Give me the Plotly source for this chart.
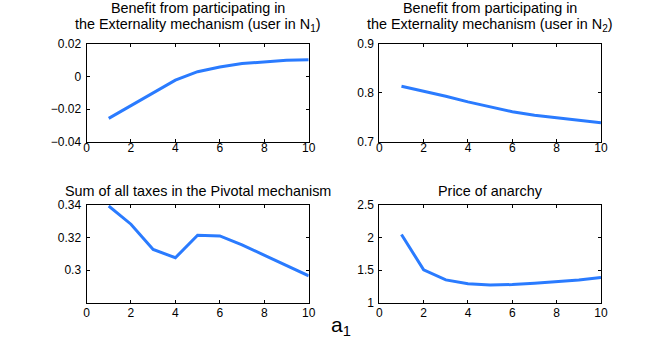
import plotly.graph_objects as go

W, H = 664, 341

a1 = [1, 2, 3, 4, 5, 6, 7, 8, 9, 10]
benefit_n1 = [-0.0257, -0.0180, -0.0100, -0.0022, 0.0030, 0.0059, 0.0080, 0.0092, 0.0100, 0.0104]
benefit_n2 = [0.8136, 0.8040, 0.7930, 0.7816, 0.7710, 0.7612, 0.7540, 0.7490, 0.7430, 0.7388]
pivotal_taxes = [0.3394, 0.3282, 0.3127, 0.3076, 0.3214, 0.3210, 0.3155, 0.3092, 0.3027, 0.2965]
price_anarchy = [2.046, 1.505, 1.350, 1.290, 1.273, 1.278, 1.300, 1.325, 1.350, 1.387]

x_ticks = [0, 2, 4, 6, 8, 10]
titles = [
    ["Benefit from participating in", "the Externality mechanism (user in N<sub>1</sub>)"],
    ["Benefit from participating in", "the Externality mechanism (user in N<sub>2</sub>)"],
    ["Sum of all taxes in the Pivotal mechanism"],
    ["Price of anarchy"],
]

FONT = "Liberation Sans, Arial, Helvetica, sans-serif"
BLUE = "#2a7bff"

def px_x(p):
    return p / W

def px_y(p):
    return 1 - p / H

# axes boxes in pixels: (left, right, top, bottom)
boxes = [
    (86.5, 308.7, 44, 141.7),
    (379.3, 601, 44, 141.7),
    (86.5, 308.7, 205, 302.7),
    (379.3, 601, 205, 302.7),
]
series = [benefit_n1, benefit_n2, pivotal_taxes, price_anarchy]
yranges = [[-0.04, 0.02], [0.7, 0.9], [0.28, 0.34], [1, 2.5]]
ytickvals = [[-0.04, -0.02, 0, 0.02], [0.7, 0.8, 0.9], [0.3, 0.32, 0.34], [1, 1.5, 2, 2.5]]
yticktext = [["\u22120.04", "\u22120.02", "0", "0.02"], ["0.7", "0.8", "0.9"],
             ["0.3", "0.32", "0.34"], ["1", "1.5", "2", "2.5"]]

fig = go.Figure()
layout = dict(
    width=W, height=H,
    margin=dict(l=0, r=0, t=0, b=0),
    paper_bgcolor="white", plot_bgcolor="white",
    showlegend=False,
    font=dict(family=FONT, size=12, color="black"),
)
annotations = []
for i, (box, ys) in enumerate(zip(boxes, series)):
    n = "" if i == 0 else str(i + 1)
    fig.add_trace(go.Scatter(x=a1, y=ys, mode="lines",
                             line=dict(color=BLUE, width=3),
                             xaxis="x" + n, yaxis="y" + n))
    l, r, t, b = box
    common = dict(showline=True, linecolor="black", linewidth=1, mirror="ticks",
                  ticks="inside", ticklen=3, tickcolor="black", showgrid=False,
                  zeroline=False, automargin=False,
                  tickfont=dict(family=FONT, size=12, color="black"))
    layout["xaxis" + n] = dict(domain=[px_x(l), px_x(r)], range=[0, 10],
                               tickvals=x_ticks, anchor="y" + n,
                               ticklabelstandoff=(-5 if i < 2 else -1), **common)
    layout["yaxis" + n] = dict(domain=[px_y(b), px_y(t)], range=yranges[i],
                               tickvals=ytickvals[i], ticktext=yticktext[i],
                               anchor="x" + n, ticklabelstandoff=2, **common)
    cx = px_x((l + r) / 2)
    ys_px = [8.3, 24.5] if len(titles[i]) == 2 else [191]
    for line, yp in zip(titles[i], ys_px):
        annotations.append(dict(text=line, x=cx, y=px_y(yp), xref="paper", yref="paper",
                                xanchor="center", yanchor="middle", showarrow=False,
                                font=dict(family=FONT, size=14.4, color="black")))

annotations.append(dict(text="a<sub>1</sub>", x=px_x(341), y=px_y(326), xref="paper", yref="paper",
                        xanchor="center", yanchor="middle", showarrow=False,
                        font=dict(family=FONT, size=21, color="black")))
layout["annotations"] = annotations
fig.update_layout(**layout)
fig.write_html("out.html", config={"displayModeBar": False},
               post_script="document.body.style.margin='0';document.body.style.overflow='hidden';")
